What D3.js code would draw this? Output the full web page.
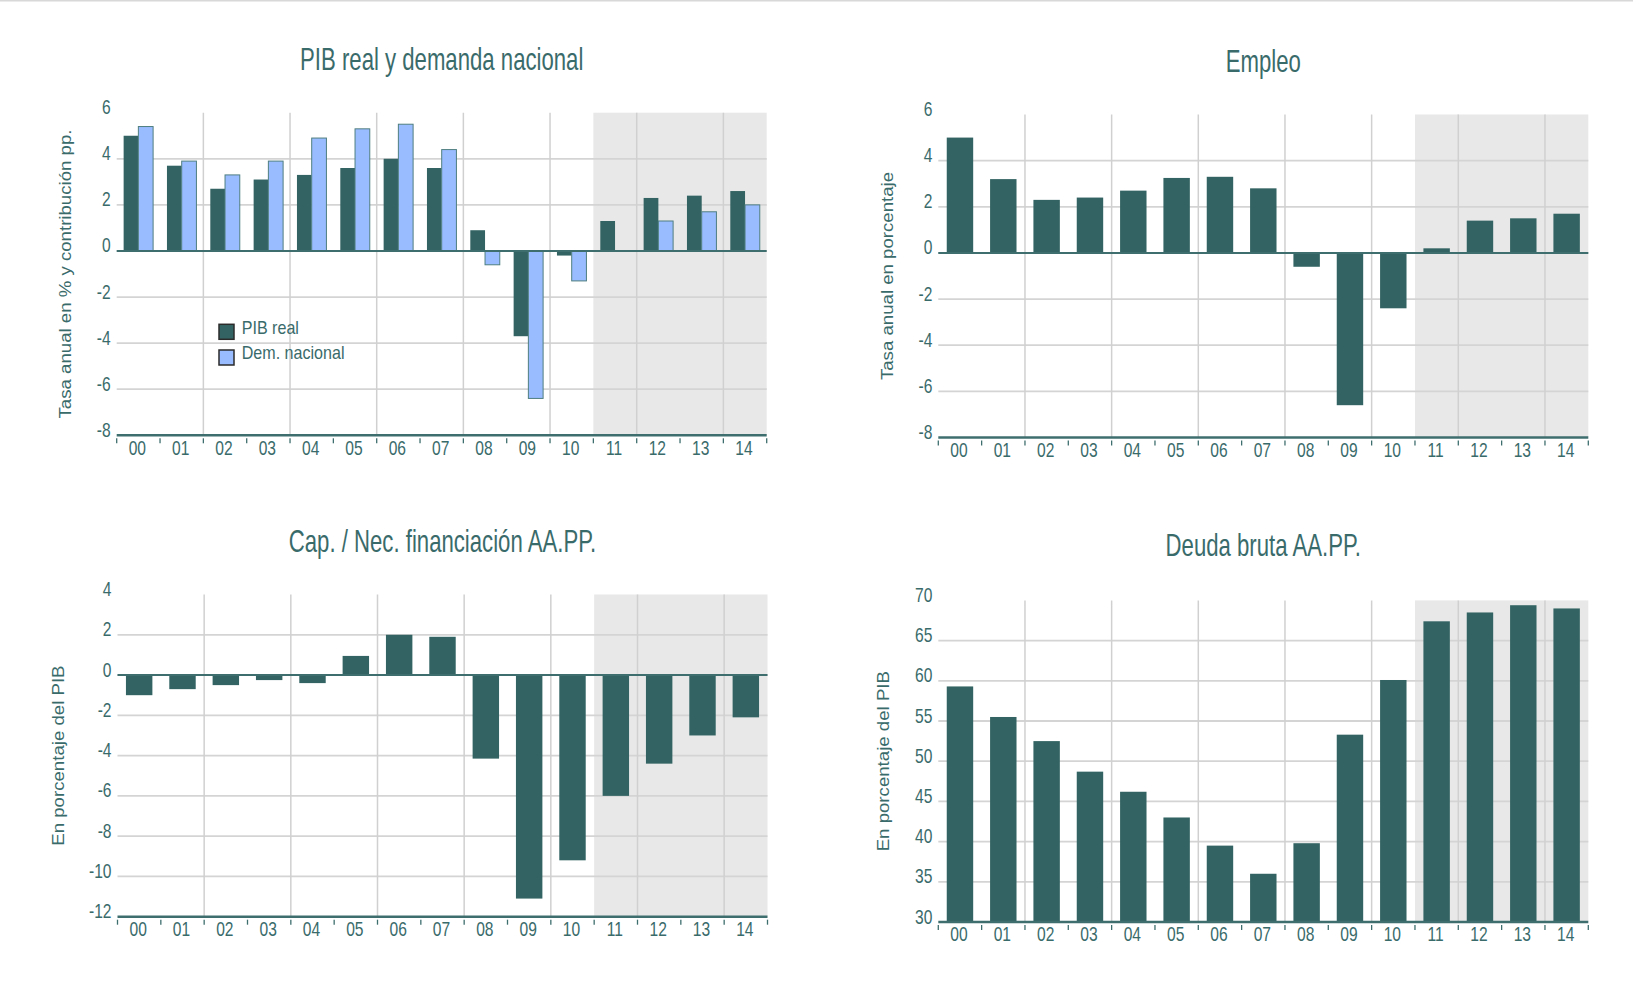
<!DOCTYPE html>
<html>
<head>
<meta charset="utf-8">
<script src="https://cdn.jsdelivr.net/npm/d3@7"></script>
<style>
body { margin: 0; background: #fff; }
svg { display: block; font-family: "Liberation Sans", Arial, sans-serif; }
</style>
</head>
<body>
<script>

var years = ['00', '01', '02', '03', '04', '05', '06', '07', '08', '09', '10', '11', '12', '13', '14'];
var forecastFrom = '11';

var pibReal     = [5.0, 3.7, 2.7, 3.1, 3.3, 3.6, 4.0, 3.6, 0.9, -3.7, -0.2, 1.3, 2.3, 2.4, 2.6];
var demNacional = [5.4, 3.9, 3.3, 3.9, 4.9, 5.3, 5.5, 4.4, -0.6, -6.4, -1.3, 0, 1.3, 1.7, 2.0];
var empleo      = [5.0, 3.2, 2.3, 2.4, 2.7, 3.25, 3.3, 2.8, -0.6, -6.6, -2.4, 0.2, 1.4, 1.5, 1.7];
var capNec      = [-1.0, -0.7, -0.5, -0.25, -0.4, 0.95, 2.0, 1.9, -4.15, -11.1, -9.2, -6.0, -4.4, -3.0, -2.1];
var deuda       = [59.3, 55.5, 52.5, 48.7, 46.2, 43.0, 39.5, 36.0, 39.8, 53.3, 60.1, 67.4, 68.5, 69.4, 69.0];

var ticksTasa  = [-8, -6, -4, -2, 0, 2, 4, 6];
var ticksCap   = [-12, -10, -8, -6, -4, -2, 0, 2, 4];
var ticksDeuda = [30, 35, 40, 45, 50, 55, 60, 65, 70];

var titles = ['PIB real y demanda nacional', 'Empleo', 'Cap. / Nec. financiación AA.PP.', 'Deuda bruta AA.PP.'];
var yTitles = ['Tasa anual en % y contribución pp.', 'Tasa anual en porcentaje', 'En porcentaje del PIB', 'En porcentaje del PIB'];
var legendNames = ['PIB real', 'Dem. nacional'];

var W = 1633, H = 994;
var teal = '#336463', blue = '#99bbff', ink = '#3a6b6b', axisCol = '#3f6e6e';

var svg = d3.select('body').append('svg')
	.attr('width', W)
	.attr('height', H);

svg.append('rect').attr('width', W).attr('height', 1.5).attr('fill', '#d8d8d8');

var panels = [
	{title: titles[0], yTitle: yTitles[0], series: [pibReal, demNacional], colors: [teal, blue], ticks: ticksTasa,
	 left: 116.7, top: 112.7, bottom: 435.3, titleY: 70, yTitleX: 70.5, pad: 0.32},
	{title: titles[1], yTitle: yTitles[1], series: [empleo], colors: [teal], ticks: ticksTasa,
	 left: 938.3, top: 114.5, bottom: 437.5, titleY: 72, yTitleX: 892.5, pad: 0.39},
	{title: titles[2], yTitle: yTitles[2], series: [capNec], colors: [teal], ticks: ticksCap,
	 left: 117.5, top: 594.5, bottom: 916.7, titleY: 552, yTitleX: 63.5, pad: 0.39},
	{title: titles[3], yTitle: yTitles[3], series: [deuda], colors: [teal], ticks: ticksDeuda,
	 left: 938.3, top: 600.4, bottom: 922, titleY: 556, yTitleX: 888.5, pad: 0.39}
];

function drawPanel(p) {
	var w = 650, h = p.bottom - p.top;
	var g = svg.append('g').attr('transform', 'translate(' + p.left + ',' + p.top + ')');

	var x = d3.scaleBand().domain(years).range([0, w]);
	var y = d3.scaleLinear().domain(d3.extent(p.ticks)).range([h, 0]);
	var base = Math.max(0, y.domain()[0]);

	// shaded forecast years
	g.append('rect')
		.attr('x', x(forecastFrom))
		.attr('width', w - x(forecastFrom))
		.attr('height', h)
		.attr('fill', '#e8e8e8');

	g.selectAll(null).data(p.ticks.slice(1, -1)).enter().append('line')
		.attr('x1', 0).attr('x2', w)
		.attr('y1', function(d){ return y(d); })
		.attr('y2', function(d){ return y(d); })
		.attr('stroke', '#d4d4d4').attr('stroke-width', 1.8);

	g.selectAll(null).data(years.filter(function(d, i){ return i > 0 && i % 2 == 0; })).enter().append('line')
		.attr('x1', function(d){ return x(d); })
		.attr('x2', function(d){ return x(d); })
		.attr('y1', 0).attr('y2', h)
		.attr('stroke', '#d0d0d0').attr('stroke-width', 1.5);

	var xb = d3.scaleBand().domain(years).range([0, w]).paddingInner(p.pad).paddingOuter(p.pad / 2);
	var sub = d3.scaleBand().domain(d3.range(p.series.length)).range([0, xb.bandwidth()]);

	p.series.forEach(function(vals, k) {
		g.selectAll(null).data(vals).enter().append('rect')
			.attr('x', function(d, i){ return xb(years[i]) + sub(k); })
			.attr('y', function(d){ return y(Math.max(d, base)); })
			.attr('width', sub.bandwidth())
			.attr('height', function(d){ return Math.abs(y(d) - y(base)); })
			.attr('fill', p.colors[k])
			.attr('stroke', p.colors[k] == blue ? '#4f7f80' : 'none')
			.attr('stroke-width', 1);
	});

	if (y.domain()[0] < 0) {
		g.append('line')
			.attr('x1', 0).attr('x2', w)
			.attr('y1', y(0)).attr('y2', y(0))
			.attr('stroke', axisCol).attr('stroke-width', 2);
	}

	g.append('line')
		.attr('x1', 0).attr('x2', w)
		.attr('y1', h).attr('y2', h)
		.attr('stroke', axisCol).attr('stroke-width', 2.5);

	g.selectAll(null).data(d3.range(years.length + 1)).enter().append('line')
		.attr('x1', function(i){ return i * x.step(); })
		.attr('x2', function(i){ return i * x.step(); })
		.attr('y1', h + 3).attr('y2', h + 8)
		.attr('stroke', axisCol).attr('stroke-width', 1.3);

	var xAxis = g.append('g')
		.attr('transform', 'translate(0,' + h + ')')
		.call(d3.axisBottom(x).tickSize(0));
	xAxis.select('.domain').remove();
	xAxis.attr('font-family', null).attr('font-size', 20);
	xAxis.selectAll('text')
		.attr('fill', ink)
		.attr('y', 19.5).attr('dy', 0)
		.attr('x', -1 / 0.78)
		.attr('transform', 'scale(0.78,1)');

	var yAxis = g.append('g').call(d3.axisLeft(y).tickValues(p.ticks).tickSize(0)
		.tickFormat(function(d){ return String(d); }));
	yAxis.select('.domain').remove();
	yAxis.attr('font-family', null).attr('font-size', 20);
	yAxis.selectAll('text')
		.attr('fill', ink)
		.attr('x', -6 / 0.78).attr('y', 1).attr('dy', 0)
		.attr('transform', 'scale(0.78,1)');

	svg.append('text')
		.attr('transform', 'translate(' + (p.left + w / 2) + ',' + p.titleY + ') scale(0.715,1)')
		.attr('text-anchor', 'middle')
		.attr('font-size', 31)
		.attr('fill', ink)
		.text(p.title);

	svg.append('text')
		.attr('transform', 'translate(' + p.yTitleX + ',' + (p.top + h / 2) + ') rotate(-90) scale(1.13,1)')
		.attr('text-anchor', 'middle')
		.attr('font-size', 16.5)
		.attr('fill', ink)
		.text(p.yTitle);
}

panels.forEach(drawPanel);

// legend of the first panel
var legend = svg.append('g').attr('transform', 'translate(219,324.3)');
legend.selectAll(null).data(legendNames).enter().append('rect')
	.attr('x', 0)
	.attr('y', function(d, i){ return i * 25.7; })
	.attr('width', 15).attr('height', 15)
	.attr('fill', function(d, i){ return panels[0].colors[i]; })
	.attr('stroke', '#2b2b2b').attr('stroke-width', 1.5);
legend.selectAll(null).data(legendNames).enter().append('text')
	.attr('transform', function(d, i){ return 'translate(22.7,' + (10 + i * 25) + ') scale(0.92,1)'; })
	.attr('font-size', 17.5)
	.attr('fill', ink)
	.text(function(d){ return d; });

</script>
</body>
</html>
